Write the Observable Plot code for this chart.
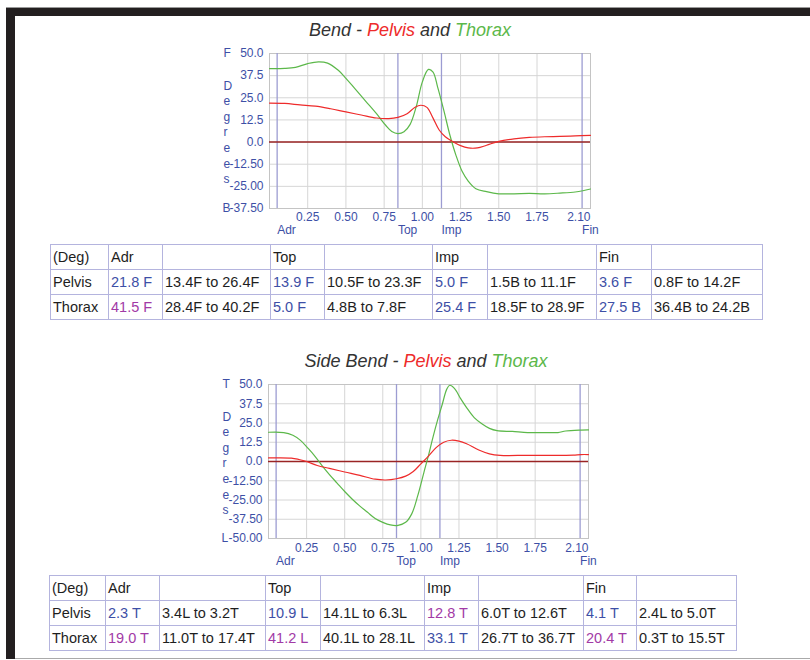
<!DOCTYPE html>
<html>
<head>
<meta charset="utf-8">
<script src="https://cdn.jsdelivr.net/npm/d3@7"></script>
<script src="https://cdn.jsdelivr.net/npm/@observablehq/plot@0.6"></script>
<style>
  html, body { margin: 0; padding: 0; background: #fff; }
  body { width: 810px; height: 660px; position: relative; overflow: hidden; font-family: "Liberation Sans", Arial, sans-serif; }
  .bar { position: absolute; background: #231f20; }
  .title { position: absolute; font-style: italic; font-size: 18px; color: #333; white-space: nowrap; transform: translateX(-50%); }
  .chart { position: absolute; }
  table { position: absolute; border-collapse: collapse; table-layout: fixed; font-size: 14.5px; color: #1e1e1e; }
  td { border: 1px solid #b4b4de; height: 24px; padding: 0 0 0 2px; white-space: nowrap; overflow: hidden; }
</style>
</head>
<body>
<div class="bar" style="left:6px; top:7px; width:804px; height:1px; background:#999"></div>
<div class="bar" style="left:6px; top:8px; width:804px; height:8px;"></div>
<div class="bar" style="left:6px; top:8px; width:9px; height:651px;"></div>
<div class="bar" style="left:15px; top:658px; width:795px; height:1px; background:#aaa"></div>

<div class="title" id="t1" style="left:410px; top:20px;"></div>
<div class="chart" id="c1" style="left:200px; top:40px;"></div>
<table id="tab1" style="left:50px; top:244px;"></table>

<div class="title" id="t2" style="left:426px; top:351px;"></div>
<div class="chart" id="c2" style="left:200px; top:370px;"></div>
<table id="tab2" style="left:49px; top:575px;"></table>

<script>
// ---------- data ----------
const eventNames = ["Adr", "Top", "Imp", "Fin"];
const eventTimes = [0.05, 0.84, 1.125, 2.045];
const xTicks = [0.25, 0.5, 0.75, 1.0, 1.25, 1.5, 1.75];
const xTickLabels = ["0.25", "0.50", "0.75", "1.00", "1.25", "1.50", "1.75"];
const xEndLabel = "2.10";

// Bend
const bendYTicks = [50, 37.5, 25, 12.5, 0, -12.5, -25, -37.5];
const bendYLabels = ["50.0", "37.5", "25.0", "12.5", "0.0", "-12.50", "-25.00", "-37.50"];
const bendPelvisT = [0, 0.1, 0.2, 0.3, 0.4, 0.5, 0.6, 0.7, 0.78, 0.84, 0.9, 0.95, 0.99, 1.03, 1.07, 1.11, 1.15, 1.2, 1.25, 1.3, 1.36, 1.42, 1.5, 1.6, 1.7, 1.8, 1.9, 2.0, 2.1];
const bendPelvisV = [22.0, 21.8, 21.0, 20.3, 18.8, 17.0, 15.3, 13.6, 13.2, 13.9, 16.0, 19.5, 20.8, 19.6, 13.5, 6.8, 3.0, 0.2, -2.0, -3.3, -3.3, -1.8, 0.4, 1.8, 2.6, 3.0, 3.2, 3.5, 3.8];
const bendThoraxT = [0, 0.1, 0.17, 0.25, 0.32, 0.38, 0.45, 0.5, 0.56, 0.63, 0.7, 0.76, 0.8, 0.84, 0.88, 0.92, 0.96, 1.0, 1.04, 1.07, 1.1, 1.14, 1.18, 1.22, 1.26, 1.3, 1.35, 1.42, 1.5, 1.6, 1.7, 1.8, 1.9, 2.0, 2.05, 2.1];
const bendThoraxV = [41.5, 41.6, 42.2, 44.3, 45.3, 44.6, 40.5, 36.0, 30.0, 23.0, 16.0, 9.5, 6.0, 4.8, 5.8, 10.0, 20.0, 34.0, 41.0, 39.5, 31.0, 18.0, 4.0, -7.5, -16.5, -22.0, -26.3, -28.0, -29.2, -29.2, -29.0, -29.2, -28.8, -28.2, -27.5, -26.5];

// Side Bend
const sideYTicks = [50, 37.5, 25, 12.5, 0, -12.5, -25, -37.5, -50];
const sideYLabels = ["50.0", "37.5", "25.0", "12.5", "0.0", "-12.50", "-25.00", "-37.50", "-50.00"];
const sidePelvisT = [0, 0.15, 0.2, 0.25, 0.32, 0.4, 0.5, 0.6, 0.7, 0.77, 0.84, 0.9, 0.95, 1.0, 1.05, 1.1, 1.15, 1.2, 1.25, 1.3, 1.38, 1.45, 1.52, 1.7, 1.9, 2.0, 2.05, 2.1];
const sidePelvisV = [2.3, 2.2, 1.3, 0.0, -2.6, -4.5, -6.8, -9.0, -11.5, -12.0, -11.2, -9.5, -6.5, -1.5, 3.5, 9.0, 12.5, 13.8, 13.2, 11.5, 7.5, 5.0, 4.0, 4.0, 4.0, 4.1, 4.5, 4.5];
const sideThoraxT = [0, 0.1, 0.16, 0.21, 0.26, 0.3, 0.35, 0.4, 0.45, 0.5, 0.55, 0.6, 0.65, 0.7, 0.75, 0.8, 0.85, 0.9, 0.94, 0.98, 1.02, 1.05, 1.08, 1.11, 1.14, 1.17, 1.19, 1.22, 1.26, 1.3, 1.35, 1.4, 1.45, 1.5, 1.6, 1.7, 1.8, 1.9, 1.95, 2.05, 2.1];
const sideThoraxV = [19.0, 18.8, 17.0, 13.7, 8.5, 4.0, -2.5, -8.5, -14.0, -19.5, -24.5, -29.0, -33.0, -37.0, -39.5, -41.2, -41.5, -39.5, -34.0, -22.0, -7.0, 4.0, 16.0, 27.0, 37.0, 47.0, 49.5, 47.5, 41.0, 35.0, 28.5, 24.5, 21.5, 20.0, 19.5, 18.8, 18.8, 18.8, 19.8, 20.4, 20.5];

// Tables
const tableHeader = ["(Deg)", "Adr", "", "Top", "", "Imp", "", "Fin", ""];
const bendPelvisRow = ["Pelvis", "21.8 F", "13.4F to 26.4F", "13.9 F", "10.5F to 23.3F", "5.0 F", "1.5B to 11.1F", "3.6 F", "0.8F to 14.2F"];
const bendPelvisCol = ["", "b", "", "b", "", "b", "", "b", ""];
const bendThoraxRow = ["Thorax", "41.5 F", "28.4F to 40.2F", "5.0 F", "4.8B to 7.8F", "25.4 F", "18.5F to 28.9F", "27.5 B", "36.4B to 24.2B"];
const bendThoraxCol = ["", "m", "", "b", "", "b", "", "b", ""];
const sidePelvisRow = ["Pelvis", "2.3 T", "3.4L to 3.2T", "10.9 L", "14.1L to 6.3L", "12.8 T", "6.0T to 12.6T", "4.1 T", "2.4L to 5.0T"];
const sidePelvisCol = ["", "b", "", "b", "", "m", "", "b", ""];
const sideThoraxRow = ["Thorax", "19.0 T", "11.0T to 17.4T", "41.2 L", "40.1L to 28.1L", "33.1 T", "26.7T to 36.7T", "20.4 T", "0.3T to 15.5T"];
const sideThoraxCol = ["", "m", "", "m", "", "b", "", "m", ""];
const bendColWidths = [58, 54, 108, 54, 108, 55, 109, 55, 111];
const sideColWidths = [56, 54, 106, 55, 104, 54, 105, 53, 100];

// ---------- styles ----------
const BLUE = "#3d4fa6";
const MAGENTA = "#a23aa6";
const RED = "#ee2b2b";
const GREEN = "#5cb84a";

function titleHTML(prefix) {
  return `${prefix} - <span style="color:${RED}">Pelvis</span> and <span style="color:${GREEN}">Thorax</span>`;
}
document.getElementById("t1").innerHTML = titleHTML("Bend");
document.getElementById("t2").innerHTML = titleHTML("Side Bend");

function pts(T, V) { return T.map((t, i) => ({t, v: V[i]})); }

function chart({yTicks, yLabels, pelvis, thorax, topLetter, bottomLetter, ml, mr, mt, mb, tickPad, eventDy}) {
  const labelMap = new Map(yTicks.map((d, i) => [d, yLabels[i]]));
  const xLabelMap = new Map(xTicks.map((d, i) => [d, xTickLabels[i]]));
  const yDom = [d3.min(yTicks), d3.max(yTicks)];
  return Plot.plot({
    width: 400, height: 200,
    marginLeft: ml, marginRight: mr, marginTop: mt, marginBottom: mb,
    x: {domain: [0, 2.1], label: null},
    y: {domain: yDom, label: null},
    style: {fontFamily: "'Liberation Sans', Arial, sans-serif", fontSize: "12px", color: BLUE, background: "transparent", overflow: "visible"},
    marks: [
      Plot.gridX(xTicks, {stroke: "#d6d6d6", strokeOpacity: 1}),
      Plot.gridY(yTicks, {stroke: "#d6d6d6", strokeOpacity: 1}),
      Plot.frame({stroke: "#c4c4c4"}),
      Plot.ruleX(eventTimes, {stroke: "#9c9cd2", strokeWidth: 1.3}),
      Plot.ruleY([0], {stroke: "#9a2424", strokeWidth: 1.4}),
      Plot.line(thorax, {x: "t", y: "v", stroke: GREEN, strokeWidth: 1.2, curve: "catmull-rom"}),
      Plot.line(pelvis, {x: "t", y: "v", stroke: RED, strokeWidth: 1.2, curve: "catmull-rom"}),
      Plot.axisY(yTicks, {tickSize: 0, tickPadding: 6, tickFormat: d => labelMap.get(d), fill: BLUE, label: null}),
      Plot.axisX(xTicks, {tickSize: 0, tickPadding: tickPad, tickFormat: d => xLabelMap.get(d), fill: BLUE, label: null}),
      Plot.text([xEndLabel], {x: 2.1, frameAnchor: "bottom", dy: tickPad, lineAnchor: "top", textAnchor: "end", fill: BLUE}),
      Plot.text(eventNames, {x: eventTimes, frameAnchor: "bottom", dy: eventDy, lineAnchor: "top", textAnchor: "start", fill: BLUE}),
      Plot.text([topLetter], {y: yDom[1], frameAnchor: "left", dx: -46, fill: BLUE}),
      Plot.text([bottomLetter], {y: yDom[0], frameAnchor: "left", dx: -47, fill: BLUE}),
      Plot.text(["D\ne\ng\nr\ne\ne\ns"], {frameAnchor: "top-left", dx: -46, dy: 25, lineAnchor: "top", lineHeight: 1.3, fill: BLUE})
    ]
  });
}

document.getElementById("c1").append(chart({
  yTicks: bendYTicks, yLabels: bendYLabels,
  pelvis: pts(bendPelvisT, bendPelvisV), thorax: pts(bendThoraxT, bendThoraxV),
  topLetter: "F", bottomLetter: "B", ml: 69, mr: 10, mt: 13, mb: 32, tickPad: 4, eventDy: 17
}));
document.getElementById("c2").append(chart({
  yTicks: sideYTicks, yLabels: sideYLabels,
  pelvis: pts(sidePelvisT, sidePelvisV), thorax: pts(sideThoraxT, sideThoraxV),
  topLetter: "T", bottomLetter: "L", ml: 68, mr: 12, mt: 14, mb: 32, tickPad: 5, eventDy: 18
}));

function buildTable(id, widths, rows, cols) {
  const tab = document.getElementById(id);
  const cg = document.createElement("colgroup");
  widths.forEach(w => { const c = document.createElement("col"); c.style.width = w + "px"; cg.append(c); });
  tab.append(cg);
  tab.style.width = d3.sum(widths) + "px";
  rows.forEach((r, ri) => {
    const tr = document.createElement("tr");
    r.forEach((cell, ci) => {
      const td = document.createElement("td");
      td.textContent = cell;
      const c = cols[ri] ? cols[ri][ci] : "";
      if (c === "b") td.style.color = BLUE;
      if (c === "m") td.style.color = MAGENTA;
      tr.append(td);
    });
    tab.append(tr);
  });
}
buildTable("tab1", bendColWidths, [tableHeader, bendPelvisRow, bendThoraxRow], [null, bendPelvisCol, bendThoraxCol]);
buildTable("tab2", sideColWidths, [tableHeader, sidePelvisRow, sideThoraxRow], [null, sidePelvisCol, sideThoraxCol]);
</script>
</body>
</html>
